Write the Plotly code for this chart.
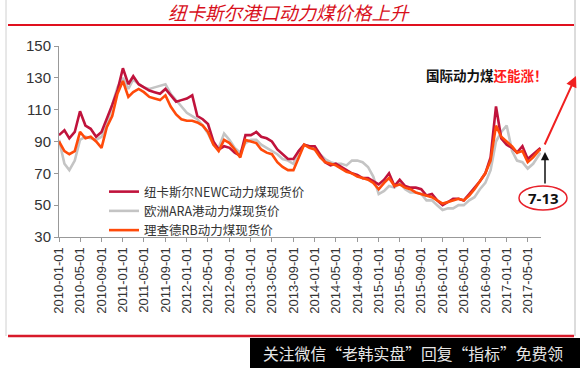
import plotly.graph_objects as go

# ---------------- data ----------------
dates = [f"{2010 + i // 12}-{i % 12 + 1:02d}-01" for i in range(91)] + ["2017-07-13"]

newc = [94, 97, 92, 96, 109, 100, 98, 93, 96, 104,
        113, 122, 136, 126, 131, 126, 124, 122, 121, 120,
        123, 119, 115, 116, 117, 119, 106, 104, 101, 90,
        85, 87, 86, 83, 81, 94, 94, 96, 93, 92,
        90, 85, 82, 79, 79, 84, 88, 87, 87, 82,
        77, 75, 76, 74, 72, 70, 69, 67, 67, 65,
        63, 66, 70, 62, 66, 62, 61, 61, 60, 56,
        57, 53, 50, 52, 54, 54, 53, 57, 61, 65,
        70, 80, 112, 92, 88, 86, 83, 87, 79, 82, 85,
        86]

ara = [91, 76, 72, 78, 91, 93, 92, 91, 93, 100,
       113, 124, 130, 123, 129, 126, 124, 123, 124, 125,
       126, 120, 116, 112, 108, 106, 104, 100, 95, 88,
       86, 95, 91, 86, 83, 89, 91, 91, 88, 86,
       84, 82, 79, 78, 76, 84, 88, 87, 85, 82,
       79, 77, 76, 76, 75, 78, 78, 77, 74, 68,
       57, 59, 62, 61, 64, 60, 58, 58, 57, 53,
       53, 50, 47, 48, 48, 50, 50, 53, 55, 60,
       64, 72, 90, 96, 100, 84, 78, 77, 73, 76, 81,
       83]

rb = [90, 84, 82, 84, 96, 92, 93, 90, 86, 99,
      106, 120, 128, 118, 121, 123, 121, 118, 117, 116,
      119, 112, 107, 104, 103, 103, 102, 100, 96, 88,
      84, 91, 89, 85, 80, 91, 90, 89, 85, 83,
      82, 77, 74, 72, 72, 80, 88, 86, 85, 80,
      77, 76, 75, 73, 71, 70, 68, 67, 66, 64,
      60, 64, 67, 62, 63, 61, 60, 58, 57, 56,
      55, 53, 51, 52, 53, 54, 53, 56, 60, 65,
      70, 78, 100, 93, 90, 87, 83, 84, 77, 80, 84,
      85]

series_names = ["纽卡斯尔NEWC动力煤现货价", "欧洲ARA港动力煤现货价", "理查德RB动力煤现货价"]

tick_dates = [f"{y}-{m:02d}-01" for y in range(2010, 2018) for m in (1, 5, 9)][:23]
tick_text = tick_dates
y_ticks = [30, 50, 70, 90, 110, 130, 150]

title_text = "纽卡斯尔港口动力煤价格上升"
note_text = "国际动力煤<span style='color:#FF1A1A'>还能涨！</span>"
date_note = "7-13"
watermark = "关注微信“老韩实盘”回复“指标”免费领"

# ---------------- figure ----------------
W, H = 580, 368
L, R, T, B = 59, 39, 46, 131
PW, PH = W - L - R, H - T - B


def px(x):
    return (x - L) / PW


def py(y):
    return (H - B - y) / PH


fig = go.Figure()
fig.add_trace(go.Scatter(x=dates, y=ara, name=series_names[1], mode="lines",
                         line=dict(color="#C4C4C4", width=2.6), legendrank=2))
fig.add_trace(go.Scatter(x=dates, y=newc, name=series_names[0], mode="lines",
                         line=dict(color="#C0133C", width=2.6), legendrank=1))
fig.add_trace(go.Scatter(x=dates, y=rb, name=series_names[2], mode="lines",
                         line=dict(color="#FF4A0A", width=2.6), legendrank=3))

axis_font = dict(family="Arial, Liberation Sans", size=13, color="#333333")

fig.update_layout(
    width=W, height=H,
    margin=dict(l=L, r=R, t=T, b=B, autoexpand=False),
    paper_bgcolor="white", plot_bgcolor="white",
    showlegend=True,
    legend=dict(x=px(104), y=py(177), xanchor="left", yanchor="top",
                bgcolor="rgba(0,0,0,0)", itemwidth=30, tracegroupgap=0,
                font=dict(family="Noto Sans CJK SC", size=12.5, color="#333333")),
    xaxis=dict(type="date", range=["2010-01-01", "2017-07-16"],
               tickvals=tick_dates, ticktext=tick_text, tickangle=-90,
               tickfont=axis_font, showgrid=False, zeroline=False,
               showline=True, linecolor="#999999", linewidth=1,
               ticks="outside", ticklen=4, tickcolor="#999999"),
    yaxis=dict(range=[30, 150], tickvals=y_ticks, tickfont=dict(family="Arial, Liberation Sans", size=15, color="#333333"),
               showgrid=False, zeroline=False, showline=True, linecolor="#999999",
               linewidth=1, ticks="outside", ticklen=4, tickcolor="#999999"),
)

shapes = []
# frame borders
shapes.append(dict(type="line", xref="paper", yref="paper", x0=px(6), x1=px(6), y0=py(0), y1=py(336),
                   line=dict(color="#D0D0D0", width=1)))
shapes.append(dict(type="line", xref="paper", yref="paper", x0=px(575), x1=px(575), y0=py(0), y1=py(336),
                   line=dict(color="#D0D0D0", width=1.5)))
# red rules
shapes.append(dict(type="line", xref="paper", yref="paper", x0=px(8), x1=px(574), y0=py(25), y1=py(25),
                   line=dict(color="#E0101E", width=2)))
shapes.append(dict(type="line", xref="paper", yref="paper", x0=px(8), x1=px(574), y0=py(336), y1=py(336),
                   line=dict(color="#D81A2A", width=2.5)))
# ellipse around date
shapes.append(dict(type="circle", xref="paper", yref="paper", x0=px(519), x1=px(567), y0=py(210), y1=py(186),
                   line=dict(color="#E8202A", width=1.5), fillcolor="white"))
# watermark box
shapes.append(dict(type="rect", xref="paper", yref="paper", x0=px(250), x1=px(580), y0=py(368), y1=py(338),
                   line=dict(width=0), fillcolor="black"))
fig.update_layout(shapes=shapes)

ann = []
ann.append(dict(xref="paper", yref="paper", x=px(289), y=py(12), text=title_text, showarrow=False,
                font=dict(family="Noto Sans CJK SC", size=18.5, color="#D8101C", style="italic"),
                xanchor="center", yanchor="middle"))
ann.append(dict(xref="paper", yref="paper", x=px(487), y=py(75), text="<b>" + note_text + "</b>", showarrow=False,
                font=dict(family="Noto Sans CJK SC", size=13.5, color="#111111"),
                xanchor="center", yanchor="middle"))
ann.append(dict(xref="paper", yref="paper", x=px(543), y=py(198), text="<b>" + date_note + "</b>", showarrow=False,
                font=dict(family="Open Sans, Arial", size=15, color="#111111"),
                xanchor="center", yanchor="middle"))
# black arrow
ann.append(dict(xref="paper", yref="paper", x=px(545), y=py(152), text="", showarrow=True,
                axref="pixel", ayref="pixel", ax=0, ay=33, arrowhead=2, arrowsize=1.1, arrowwidth=1.5,
                arrowcolor="#111111", standoff=0))
# red arrow
ann.append(dict(xref="paper", yref="paper", x=px(576), y=py(76), text="", showarrow=True,
                axref="pixel", ayref="pixel", ax=-32, ay=70, arrowhead=2, arrowsize=1.1, arrowwidth=2,
                arrowcolor="#F02020", standoff=0))
ann.append(dict(xref="paper", yref="paper", x=px(413), y=py(353), text=watermark, showarrow=False,
                font=dict(family="Noto Sans CJK SC", size=15.8, color="#E6E6E6"),
                xanchor="center", yanchor="middle"))
fig.update_layout(annotations=ann)

fig.write_html("out.html", config={"displayModeBar": False},
               post_script="document.body.style.margin='0';document.body.style.overflow='hidden';")
